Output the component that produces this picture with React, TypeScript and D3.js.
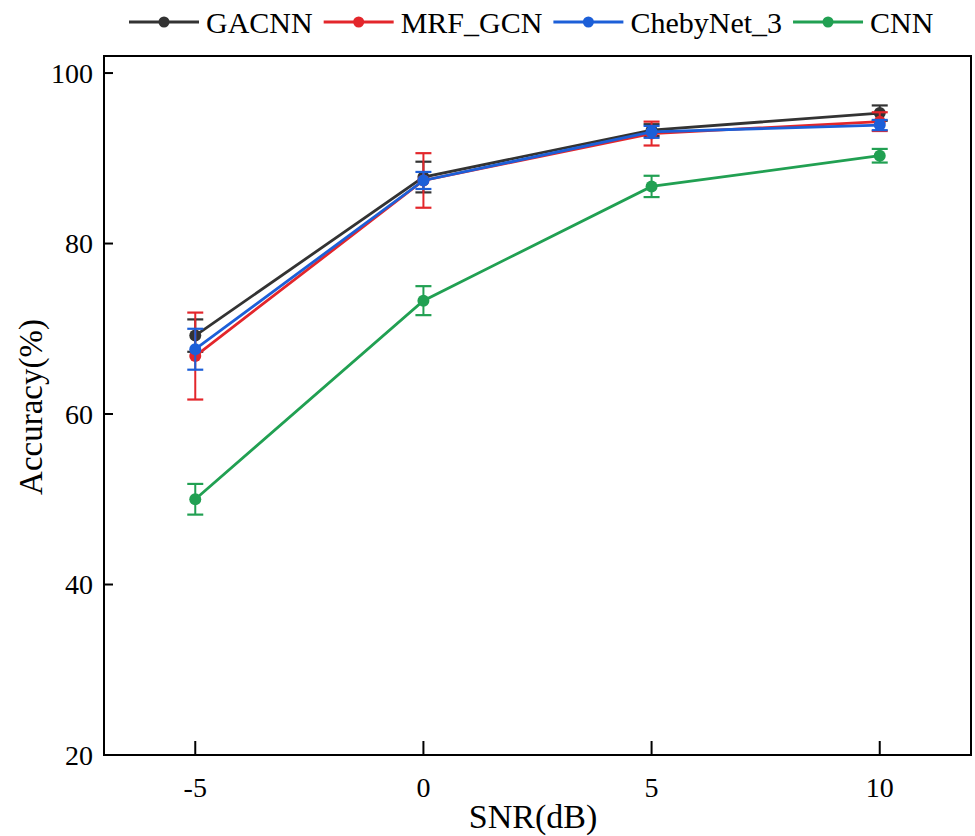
import React, { useEffect, useRef } from 'react';
import * as d3 from 'd3';

// SNR levels (dB) on the x axis
const snrLevels = [-5, 0, 5, 10];

// Series names, same order as the legend
const seriesNames = ['GACNN', 'MRF_GCN', 'ChebyNet_3', 'CNN'];

// Mean accuracy (%) per SNR level
const gacnnAcc = [69.2, 87.8, 93.3, 95.3];
const mrfGcnAcc = [66.8, 87.4, 92.9, 94.3];
const chebyNetAcc = [67.6, 87.4, 93.1, 93.9];
const cnnAcc = [50.0, 73.3, 86.7, 90.3];

// Error bar half-widths (%)
const gacnnErr = [1.9, 1.8, 0.7, 0.9];
const mrfGcnErr = [5.1, 3.2, 1.4, 1.1];
const chebyNetErr = [2.4, 1.0, 0.7, 0.6];
const cnnErr = [1.8, 1.7, 1.25, 0.8];

const yTicks = [20, 40, 60, 80, 100];

const colors = ['#333333', '#e3262b', '#1c5fd8', '#21a052'];

const App = () => {
  const ref = useRef<HTMLDivElement>(null);

  useEffect(() => {
    const W = 975;
    const H = 836;
    const frame = { left: 104, right: 971, top: 56, bottom: 755 };
    const font = '"Liberation Serif", "Times New Roman", serif';

    const series = [
      { name: seriesNames[0], values: gacnnAcc, errors: gacnnErr },
      { name: seriesNames[1], values: mrfGcnAcc, errors: mrfGcnErr },
      { name: seriesNames[2], values: chebyNetAcc, errors: chebyNetErr },
      { name: seriesNames[3], values: cnnAcc, errors: cnnErr },
    ];

    const x = d3.scaleLinear().domain([-7, 12]).range([frame.left, frame.right]);
    const y = d3.scaleLinear().domain([20, 102]).range([frame.bottom, frame.top]);

    d3.select(ref.current).select('svg').remove();

    const svg = d3.select(ref.current).append('svg')
      .attr('width', W)
      .attr('height', H)
      .style('position', 'absolute')
      .style('left', '0px')
      .style('top', '0px')
      .style('background', '#ffffff')
      .style('font-family', font);

    // Series: error bars, lines, dots
    const line = d3.line<number>()
      .x((d, i) => x(snrLevels[i]))
      .y(d => y(d));

    const capHalf = 8;
    series.forEach((s, si) => {
      const g = svg.append('g').attr('class', 'series');
      const c = colors[si];

      s.values.forEach((v, i) => {
        const cx = x(snrLevels[i]);
        const top = y(v + s.errors[i]);
        const bot = y(v - s.errors[i]);
        g.append('line').attr('x1', cx).attr('x2', cx).attr('y1', top).attr('y2', bot)
          .attr('stroke', c).attr('stroke-width', 2);
        g.append('line').attr('x1', cx - capHalf).attr('x2', cx + capHalf).attr('y1', top).attr('y2', top)
          .attr('stroke', c).attr('stroke-width', 2.2);
        g.append('line').attr('x1', cx - capHalf).attr('x2', cx + capHalf).attr('y1', bot).attr('y2', bot)
          .attr('stroke', c).attr('stroke-width', 2.2);
      });

      g.append('path')
        .datum(s.values)
        .attr('d', line)
        .attr('fill', 'none')
        .attr('stroke', c)
        .attr('stroke-width', 2.8);

      g.selectAll('circle')
        .data(s.values)
        .enter().append('circle')
        .attr('cx', (d, i) => x(snrLevels[i]))
        .attr('cy', d => y(d))
        .attr('r', 6)
        .attr('fill', c);
    });

    // Frame
    svg.append('rect')
      .attr('x', frame.left)
      .attr('y', frame.top)
      .attr('width', frame.right - frame.left)
      .attr('height', frame.bottom - frame.top)
      .attr('fill', 'none')
      .attr('stroke', '#000')
      .attr('stroke-width', 2);

    // Y ticks (inward) and labels
    yTicks.forEach(t => {
      svg.append('line')
        .attr('x1', frame.left).attr('x2', frame.left + 9)
        .attr('y1', y(t)).attr('y2', y(t))
        .attr('stroke', '#000').attr('stroke-width', 2);
      svg.append('text')
        .attr('x', frame.left - 11)
        .attr('y', y(t))
        .attr('dy', '0.35em')
        .attr('text-anchor', 'end')
        .style('font-size', '28px')
        .attr('fill', '#000')
        .text(t);
    });

    // X ticks (inward) and labels
    snrLevels.forEach(t => {
      svg.append('line')
        .attr('x1', x(t)).attr('x2', x(t))
        .attr('y1', frame.bottom).attr('y2', frame.bottom - 14)
        .attr('stroke', '#000').attr('stroke-width', 2);
      svg.append('text')
        .attr('x', x(t))
        .attr('y', 797)
        .attr('text-anchor', 'middle')
        .style('font-size', '28px')
        .attr('fill', '#000')
        .text(t);
    });

    // Axis titles
    svg.append('text')
      .attr('x', 533)
      .attr('y', 828)
      .attr('text-anchor', 'middle')
      .style('font-size', '34px')
      .attr('fill', '#000')
      .text('SNR(dB)');

    svg.append('text')
      .attr('transform', `translate(42,${407}) rotate(-90)`)
      .attr('text-anchor', 'middle')
      .style('font-size', '33px')
      .attr('fill', '#000')
      .text('Accuracy(%)');

    // Legend across the top
    const legend = svg.append('g').attr('class', 'legend');
    let lx = 129;
    const ly = 22;
    series.forEach((s, si) => {
      const c = colors[si];
      legend.append('line')
        .attr('x1', lx).attr('x2', lx + 70)
        .attr('y1', ly).attr('y2', ly)
        .attr('stroke', c).attr('stroke-width', 2.8);
      legend.append('circle')
        .attr('cx', lx + 35).attr('cy', ly).attr('r', 5.5).attr('fill', c);
      const txt = legend.append('text')
        .attr('x', lx + 77)
        .attr('y', ly)
        .attr('dy', '0.35em')
        .style('font-size', '30px')
        .attr('fill', '#000')
        .text(s.name);
      const len = (txt.node() as SVGTextElement).getComputedTextLength();
      lx += 77 + len + 11;
    });
  }, []);

  return <div ref={ref}></div>;
};

export default App;
